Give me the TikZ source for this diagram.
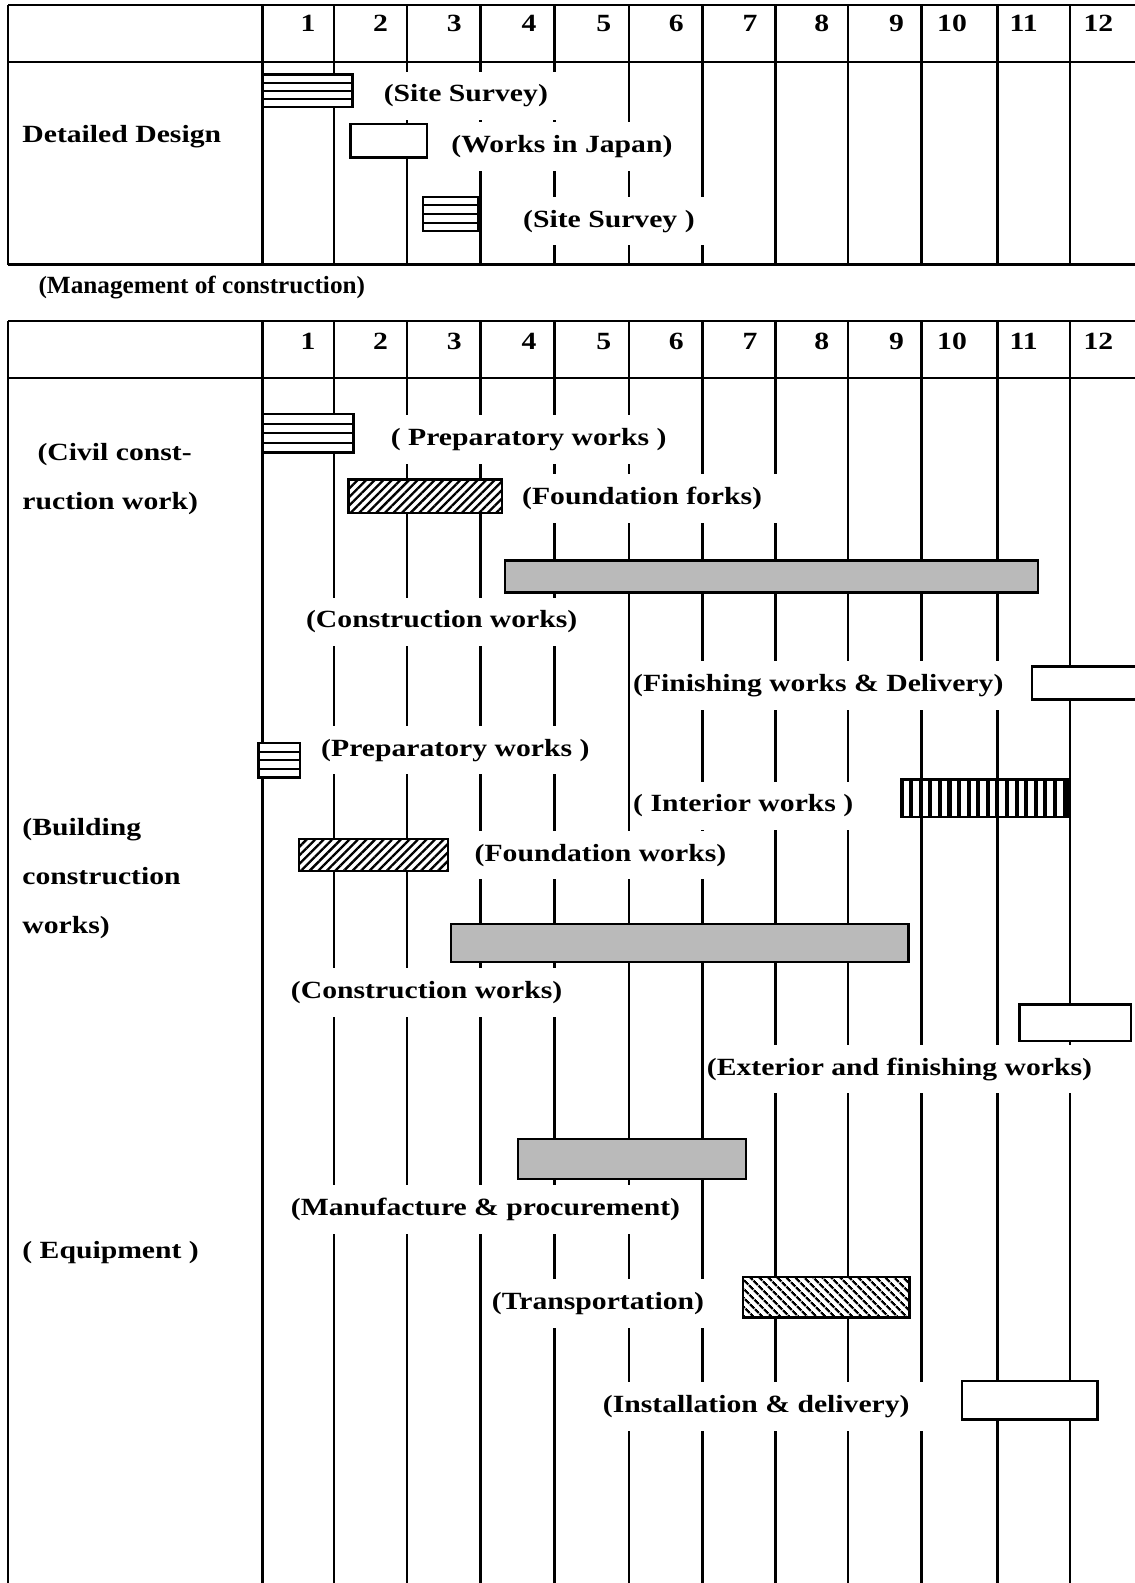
\documentclass[tikz,border=0pt]{standalone}
\usepackage{fontspec}
\setmainfont{Liberation Serif}[FakeStretch=1.2]
\newfontfamily\narrowfont{Liberation Serif}[FakeStretch=1.02]
\usetikzlibrary{patterns.meta}
\newcommand\hsbar[4]{%
  \draw[bar, fill=white] (#1,#2) rectangle (#3,#4);
  \foreach \k in {1,2,3}
    \draw[line width=2pt] (#1,{#2+(#4-#2)*\k/4}) -- (#3,{#2+(#4-#2)*\k/4});
}
\begin{document}
\begin{tikzpicture}[x=1pt,y=-1pt,
  lbl/.style={font=\fontsize{24.5}{26}\selectfont\bfseries, fill=white, inner xsep=2pt, inner ysep=0pt, minimum height=48pt, anchor=base west},
  txt/.style={font=\fontsize{24.5}{26}\selectfont\bfseries, inner sep=0pt, anchor=base west},
  num/.style={font=\fontsize{24.5}{26}\selectfont\bfseries, inner sep=0pt, anchor=base},
  frame/.style={line width=2pt},
  col/.style={line width=2.6pt},
  bar/.style={draw, line width=2.4pt},
  wbar/.style={bar, fill=white},
  gbar/.style={bar, fill=black!27},
  fhatch/.style={bar, preaction={fill=white}, pattern={Lines[angle=45,distance=6pt,line width=2.3pt]}},
  bhatch/.style={bar, preaction={fill=white}, pattern={Lines[angle=-45,distance=6.5pt,line width=2.5pt]}},
  vhatch/.style={bar, preaction={fill=white}, pattern={Lines[angle=90,distance=9.5pt,line width=4pt]}},
]
\fill[white] (0,0) rectangle (1124,1568);
\useasboundingbox (0,0) rectangle (1124,1568);

% ---------- frames ----------
\draw[frame] (8,5) -- (1124,5);
\draw[frame] (8,61) -- (1124,61);
\draw[frame] (8,262) -- (1124,262);
\draw[frame] (8,5) -- (8,262);
\draw[frame] (8,318) -- (1124,318);
\draw[frame] (8,374) -- (1124,374);
\draw[line width=2.6pt] (8,318) -- (8,1568);

% ---------- column lines ----------
\draw[line width=3pt] (260,5) -- (260,262);
\draw[line width=3pt] (260,318) -- (260,1568);
\foreach \x in {331,403,476,549,623,696,768,840,913,988,1060} {
  \draw[col] (\x,5) -- (\x,262);
  \draw[col] (\x,318) -- (\x,1568);
}

% ---------- month numbers ----------
\foreach \n/\x in {1/305,2/377,3/450,4/524,5/598,6/670,7/743,8/814,9/888,10/943,11/1014,12/1088} {
  \node[num] (ta\n) at (\x,31) {\n};
  \node[num] (tb\n) at (\x,346) {\n};
}

% ---------- labels (white masks) ----------
\node[lbl] (l1) at (378,101) {(Site Survey)\hspace*{16pt}};
\node[lbl] (l2) at (445,151) {(Works in Japan)\hspace*{16pt}};
\node[lbl] (l3) at (516,225) {(Site Survey )\hspace*{16pt}};

\node[lbl] (cprep) at (385,441) {( Preparatory works )\hspace*{16pt}};
\node[lbl] (cfound) at (515,500) {(Foundation forks)\hspace*{16pt}};
\node[lbl] (ccons) at (301,622) {(Construction works)\hspace*{16pt}};
\node[lbl] (cfin) at (625,685) {(Finishing works \& Delivery)\hspace*{16pt}};

\node[lbl] (bprep) at (316,749) {(Preparatory works )\hspace*{16pt}};
\node[lbl] (bint) at (625,804) {( Interior works )\hspace*{16pt}};
\node[lbl] (bfound) at (468,853) {(Foundation works)\hspace*{16pt}};
\node[lbl] (bcons) at (286,989) {(Construction works)\hspace*{16pt}};
\node[lbl] (bext) at (698,1065) {(Exterior and finishing works)\hspace*{16pt}};

\node[lbl] (emanu) at (286,1204) {(Manufacture \& procurement)\hspace*{16pt}};
\node[lbl] (etrans) at (485,1297) {(Transportation)\hspace*{16pt}};
\node[lbl] (einst) at (595,1399) {(Installation \& delivery)\hspace*{18pt}};

% ---------- bars ----------
\hsbar{260}{74}{349}{106}
\draw[wbar] (347,123) rectangle (423,156);
\hsbar{419}{195}{474}{229}

\hsbar{260}{410}{350}{448}
\draw[fhatch] (345,475) rectangle (497,508);
\draw[gbar] (500,555) rectangle (1028,587);
\draw[wbar] (1022,660) rectangle (1134,693);

\hsbar{256}{736}{297}{770}
\draw[vhatch] (893,772) rectangle (1058,809);
\draw[fhatch] (296,831) rectangle (444,863);
\draw[gbar] (447,915) rectangle (900,953);
\draw[wbar] (1010,995) rectangle (1120,1031);

\draw[gbar] (513,1128) rectangle (739,1168);
\draw[bhatch] (736,1265) rectangle (901,1305);
\draw[wbar] (953,1368) rectangle (1087,1406);

% ---------- row titles ----------
\node[txt] (dd) at (22,141) {Detailed Design};
\node[txt, font=\fontsize{24.5}{26}\selectfont\narrowfont\bfseries] (mgmt) at (38,291) {(Management of construction)};
\node[txt] (civ1) at (37,456) {(Civil const-};
\node[txt] (civ2) at (22,505) {ruction work)};
\node[txt] (bld1) at (22,828) {(Building};
\node[txt] (bld2) at (22,876) {construction};
\node[txt] (bld3) at (22,925) {works)};
\node[txt] (equ) at (22,1247) {( Equipment )};
\end{tikzpicture}
\end{document}
